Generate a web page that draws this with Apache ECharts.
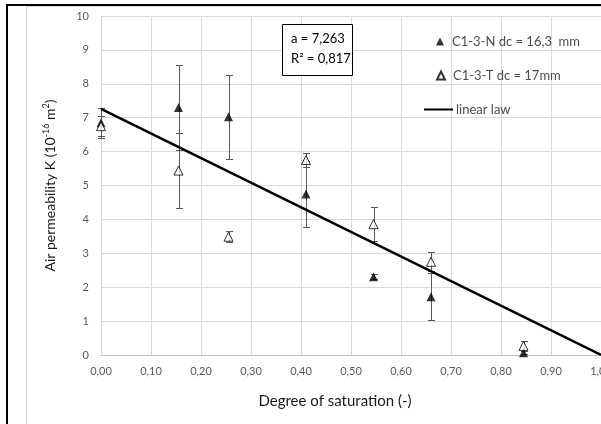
<!DOCTYPE html>
<html>
<head>
<meta charset="utf-8">
<script src="https://cdn.jsdelivr.net/npm/echarts@6/dist/echarts.min.js"></script>
<style>html,body{margin:0;padding:0;background:#fff}#c{width:601px;height:424px}</style>
</head>
<body>
<div id="c"></div>
<script>
// Degree of saturation (x) for both sample sets
const satN = [0.00, 0.155, 0.255, 0.41, 0.545, 0.66, 0.845];
const permN = [6.85, 7.30, 7.03, 4.75, 2.31, 1.72, 0.07];
const errN = [0.45, 1.25, 1.24, 0.97, 0.08, 0.69, 0.05];
const satT = [0.00, 0.155, 0.255, 0.41, 0.545, 0.66, 0.845];
const permT = [6.75, 5.44, 3.49, 5.75, 3.86, 2.75, 0.27];
const errT = [0.30, 1.10, 0.16, 0.20, 0.51, 0.28, 0.15];
const lawX = [0, 1];
const lawY = [7.263, 0];
const nameN = 'C1-3-N dc = 16,3  mm';
const nameT = 'C1-3-T dc = 17mm';
const nameLaw = 'linear law';
const boxLines = ['a = 7,263', 'R² = 0,817'];

const FONT = 'Lato, "Liberation Sans", sans-serif';
const chart = echarts.init(document.getElementById('c'));

function errBar(params, api) {
  const x = api.value(0), y = api.value(1), e = api.value(2);
  const t = api.coord([x, y + e]);
  const b = api.coord([x, Math.max(0, y - e)]);
  const cx = Math.round(t[0]) + 0.5;
  const ty = Math.round(t[1]) + 0.5, by = Math.round(b[1]) + 0.5;
  const hw = 3.5;
  const st = {stroke: '#595959', lineWidth: 1};
  return {type: 'group', children: [
    {type: 'line', shape: {x1: cx, y1: ty, x2: cx, y2: by}, style: st},
    {type: 'line', shape: {x1: cx - hw, y1: ty, x2: cx + hw, y2: ty}, style: st},
    {type: 'line', shape: {x1: cx - hw, y1: by, x2: cx + hw, y2: by}, style: st}
  ]};
}

const legendText = {fontFamily: FONT, fontSize: 13, color: '#4d4d4d', padding: [0, 0, 0, 3]};

chart.setOption({
  animation: false,
  backgroundColor: '#fff',
  grid: {left: 101, top: 16, right: 0, bottom: 69, containLabel: false, outerBoundsMode: 'none'},
  xAxis: {
    type: 'value', min: 0, max: 1, interval: 0.1,
    axisLine: {show: true, lineStyle: {color: '#bfbfbf', width: 1}},
    axisTick: {show: false},
    axisLabel: {margin: 11, fontFamily: FONT, fontSize: 11, color: '#595959',
      formatter: v => v.toFixed(2).replace('.', ',')},
    splitLine: {show: true, lineStyle: {color: '#d9d9d9', width: 1}}
  },
  yAxis: {
    type: 'value', min: 0, max: 10, interval: 1,
    name: '{n|Air permeability K (10}{s|-16}{n| m}{s|2}{n|)}',
    nameLocation: 'middle', nameGap: 42, nameRotate: 90,
    nameTextStyle: {fontFamily: FONT, fontSize: 14, color: '#1a1a1a',
      rich: {
        n: {fontFamily: FONT, fontSize: 14, color: '#1a1a1a', lineHeight: 17},
        s: {fontFamily: FONT, fontSize: 9, color: '#1a1a1a', verticalAlign: 'top', lineHeight: 17, padding: [0, 0, 6, 0]}
      }},
    axisLine: {show: false}, axisTick: {show: false},
    axisLabel: {margin: 12, fontFamily: FONT, fontSize: 11, color: '#595959'},
    splitLine: {show: true, lineStyle: {color: '#d9d9d9', width: 1}}
  },
  legend: [
    {data: [{name: nameN, icon: 'triangle'}], left: 431, top: 30, itemWidth: 8, itemHeight: 8,
      selectedMode: false, textStyle: legendText},
    {data: [{name: nameT, icon: 'triangle'}], left: 431, top: 64, itemWidth: 8, itemHeight: 8,
      selectedMode: false, textStyle: legendText},
    {data: [{name: nameLaw, icon: 'rect'}], left: 419, top: 98, itemWidth: 29, itemHeight: 2,
      selectedMode: false, textStyle: Object.assign({}, legendText, {padding: [0, 0, 0, -2]})}
  ],
  graphic: [
    {type: 'rect', z: 100, silent: true, shape: {x: 26.5, y: 6.5, width: 700, height: 500},
      style: {fill: 'none', stroke: '#d9d9d9', lineWidth: 1}},
    {type: 'rect', z: 101, silent: true, shape: {x: 7, y: 5, width: 700, height: 500},
      style: {fill: 'none', stroke: '#000', lineWidth: 2}},
    {type: 'rect', z: 50, shape: {x: 282.5, y: 24.5, width: 70, height: 51},
      style: {fill: '#fff', stroke: '#000', lineWidth: 1}},
    {type: 'text', z: 51, x: 291, y: 29,
      style: {text: boxLines.join('\n'), font: '13px ' + FONT, fill: '#000', lineHeight: 20}},
    {type: 'text', z: 51, x: 335, y: 394,
      style: {text: 'Degree of saturation (-)', font: '15px ' + FONT, fill: '#1a1a1a', textAlign: 'center'}}
  ],
  series: [
    {type: 'custom', name: 'errN', renderItem: errBar, z: 2,
      data: satN.map((s, i) => [s, permN[i], errN[i]]), encode: {x: 0, y: 1}},
    {type: 'custom', name: 'errT', renderItem: errBar, z: 2,
      data: satT.map((s, i) => [s, permT[i], errT[i]]), encode: {x: 0, y: 1}},
    {type: 'scatter', name: nameN, symbol: 'triangle', symbolSize: [9, 9], z: 3,
      itemStyle: {color: '#000', borderColor: '#000', borderWidth: 0},
      data: satN.map((s, i) => [s, permN[i]])},
    {type: 'scatter', name: nameT, symbol: 'triangle', symbolSize: [9, 9], z: 3,
      itemStyle: {color: '#fff', borderColor: '#000', borderWidth: 1},
      data: satT.map((s, i) => [s, permT[i]])},
    {type: 'line', name: nameLaw, symbol: 'none', z: 4,
      lineStyle: {color: '#000', width: 2.5}, itemStyle: {color: '#000'},
      data: lawX.map((x, i) => [x, lawY[i]])}
  ]
});
</script>
</body>
</html>
